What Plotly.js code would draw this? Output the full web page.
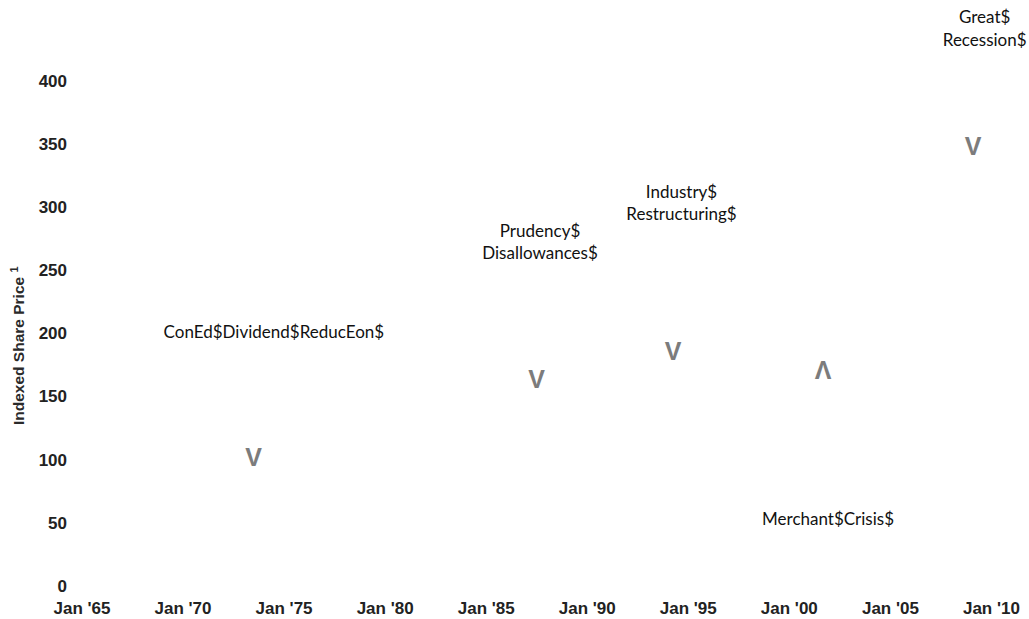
<!DOCTYPE html>
<html>
<head>
<meta charset="utf-8">
<script src="https://cdn.plot.ly/plotly-3.0.1.min.js"></script>
<style>html,body{margin:0;padding:0;background:#fff;}#chart{width:1029px;height:619px;}</style>
</head>
<body>
<div id="chart"></div>
<script>
// Event markers (chevrons) on the indexed share price scale
var arrowDates = ['1973-07-01', '1987-07-01', '1994-04-01', '2001-09-01', '2009-02-01'];
var arrowValues = [100, 162, 184, 169, 346];
var arrowSymbols = ['V', 'V', 'V', '\u039B', 'V'];

// Event labels
var labelTexts = ['ConEd$Dividend$ReducEon$', 'Prudency$<br>Disallowances$', 'Industry$<br>Restructuring$', 'Merchant$Crisis$', 'Great$<br>Recession$'];
var labelDates = ['1974-07-01', '1987-09-01', '1994-09-01', '2001-12-01', '2009-09-01'];
var labelValues = [200, 271, 302, 52, 440];

// Axis ticks
var xTickDates = ['1965-01-01', '1970-01-01', '1975-01-01', '1980-01-01', '1985-01-01', '1990-01-01', '1995-01-01', '2000-01-01', '2005-01-01', '2010-01-01'];
var xTickLabels = ["Jan '65", "Jan '70", "Jan '75", "Jan '80", "Jan '85", "Jan '90", "Jan '95", "Jan '00", "Jan '05", "Jan '10"];
var yTickValues = [0, 50, 100, 150, 200, 250, 300, 350, 400];

var traces = [
  {
    x: arrowDates, y: arrowValues, text: arrowSymbols,
    mode: 'text', type: 'scatter', textposition: 'middle center',
    textfont: {family: 'Liberation Sans, Arial, sans-serif', size: 25, color: '#7c7c7c', weight: 'bold'},
    hoverinfo: 'skip', showlegend: false, cliponaxis: false
  },
  {
    x: labelDates, y: labelValues, text: labelTexts,
    mode: 'text', type: 'scatter', textposition: 'middle center',
    textfont: {family: 'Lato, Carlito, sans-serif', size: 17, color: '#111'},
    hoverinfo: 'skip', showlegend: false, cliponaxis: false
  }
];

var layout = {
  width: 1029, height: 619,
  margin: {l: 82, r: 9, t: 5, b: 33},
  paper_bgcolor: '#fff', plot_bgcolor: '#fff',
  showlegend: false,
  xaxis: {
    type: 'date', range: ['1965-01-01', '2011-06-01'],
    tickvals: xTickDates, ticktext: xTickLabels,
    showgrid: false, zeroline: false, showline: false, ticks: '',
    ticklabelstandoff: 10,
    tickfont: {family: 'Liberation Sans, Arial, sans-serif', size: 17, color: '#222', weight: 'bold'}
  },
  yaxis: {
    range: [0, 460],
    tickvals: yTickValues,
    showgrid: false, zeroline: false, showline: false, ticks: '',
    ticklabelstandoff: 14,
    tickfont: {family: 'Liberation Sans, Arial, sans-serif', size: 17, color: '#222', weight: 'bold'}
  },
  annotations: [{
    text: 'Indexed Share Price <sup>1</sup>',
    xref: 'paper', yref: 'y', x: 0, y: 190, xshift: -64,
    xanchor: 'center', yanchor: 'middle', textangle: -90, showarrow: false,
    font: {family: 'Liberation Sans, Arial, sans-serif', size: 15.5, color: '#2a2a2a', weight: 'bold'}
  }]
};

Plotly.newPlot('chart', traces, layout, {displayModeBar: false, staticPlot: true});
</script>
</body>
</html>
